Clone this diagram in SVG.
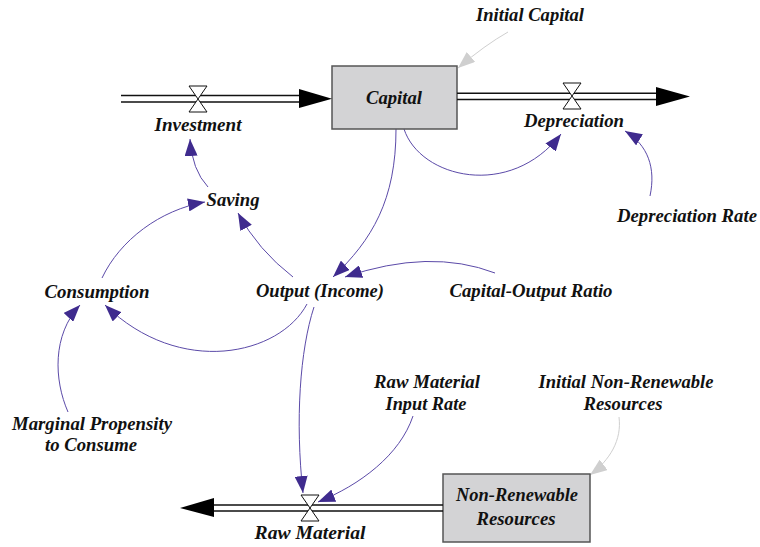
<svg xmlns="http://www.w3.org/2000/svg" width="760" height="547" viewBox="0 0 760 547">
<style>
text{font-family:"Liberation Serif","Times New Roman",serif;font-weight:bold;font-style:italic;font-size:18.5px;fill:#111;text-anchor:middle}
.box{fill:#d3d3d5;stroke:#555;stroke-width:1.5}
.pipe{fill:none;stroke:#111;stroke-width:1.5}
.valve{fill:#fff;stroke:#111;stroke-width:1}
.link{fill:none;stroke:#5b4aa8;stroke-width:1}
.init{fill:none;stroke:#cfcfcf;stroke-width:1}
</style>
<defs>
<marker id="a" markerUnits="userSpaceOnUse" markerWidth="17" markerHeight="13" refX="17" refY="6.5" orient="auto"><path d="M0,0 L17,6.5 L0,13 z" fill="#3f2b8e"/></marker>
<marker id="g" markerUnits="userSpaceOnUse" markerWidth="17" markerHeight="13" refX="17" refY="6.5" orient="auto"><path d="M0,0 L17,6.5 L0,13 z" fill="#cfcfcf"/></marker>
</defs>
<g id="connectors">
<path class="link" d="M404,129 C420,178 510,200 561,134" marker-end="url(#a)"/>
<path class="link" d="M650,196 C656,168 648,145 625,131" marker-end="url(#a)"/>
<path class="init" d="M508,32 Q485,45 458,68" marker-end="url(#g)"/>
<path class="link" d="M396,129 C396,200 372,240 333,277" marker-end="url(#a)"/>
<path class="link" d="M495,273 Q430,248 345,277" marker-end="url(#a)"/>
<path class="link" d="M293,277 Q258,250 238,213" marker-end="url(#a)"/>
<path class="link" d="M208,187 Q192,170 190,139" marker-end="url(#a)"/>
<path class="link" d="M102,278 C120,240 160,210 205,202" marker-end="url(#a)"/>
<path class="link" d="M307,304 C280,355 180,378 105,305" marker-end="url(#a)"/>
<path class="link" d="M68,412 C54,380 52,335 80,305" marker-end="url(#a)"/>
<path class="link" d="M314,307 C300,350 295,420 303,493" marker-end="url(#a)"/>
<path class="link" d="M413,416 C400,455 360,485 318,502" marker-end="url(#a)"/>
<path class="init" d="M619,417 C622,440 610,460 590,475" marker-end="url(#g)"/>
</g>
<g id="capital">
<rect class="box" x="332" y="66" width="125" height="63"/>
<text x="394" y="104" textLength="56" lengthAdjust="spacingAndGlyphs">Capital</text>
</g>
<g id="initial-capital"><text x="530" y="21" textLength="108" lengthAdjust="spacingAndGlyphs">Initial Capital</text></g>
<g id="investment">
<path class="pipe" d="M121,95.5 H300 M121,102 H300"/>
<path d="M299,89 L332,98.7 L299,108 z" fill="#000"/>
<path class="valve" d="M189,86 H207 L189,112 H207 z"/>
<text x="198" y="131" textLength="87" lengthAdjust="spacingAndGlyphs">Investment</text>
</g>
<g id="depreciation">
<path class="pipe" d="M457,93.3 H660 M457,99.5 H660"/>
<path d="M656,87 L690,96.4 L656,106 z" fill="#000"/>
<path class="valve" d="M563,83 H581 L563,109 H581 z"/>
<text x="574" y="127" textLength="100" lengthAdjust="spacingAndGlyphs">Depreciation</text>
</g>
<g id="depreciation-rate"><text x="687" y="222" textLength="140" lengthAdjust="spacingAndGlyphs">Depreciation Rate</text></g>
<g id="saving"><text x="233" y="206" textLength="53" lengthAdjust="spacingAndGlyphs">Saving</text></g>
<g id="consumption"><text x="97" y="298" textLength="105" lengthAdjust="spacingAndGlyphs">Consumption</text></g>
<g id="output"><text x="320" y="297" textLength="128" lengthAdjust="spacingAndGlyphs">Output (Income)</text></g>
<g id="capital-output-ratio"><text x="531" y="297" textLength="163" lengthAdjust="spacingAndGlyphs">Capital-Output Ratio</text></g>
<g id="mpc"><text x="92" y="430" textLength="160" lengthAdjust="spacingAndGlyphs">Marginal Propensity</text><text x="91" y="451" textLength="92" lengthAdjust="spacingAndGlyphs">to Consume</text></g>
<g id="raw-material-input-rate"><text x="427" y="388" textLength="106" lengthAdjust="spacingAndGlyphs">Raw Material</text><text x="426" y="410" textLength="81" lengthAdjust="spacingAndGlyphs">Input Rate</text></g>
<g id="initial-nr"><text x="626" y="388" textLength="175" lengthAdjust="spacingAndGlyphs">Initial Non-Renewable</text><text x="623" y="410" textLength="79" lengthAdjust="spacingAndGlyphs">Resources</text></g>
<g id="non-renewable-resources">
<rect class="box" x="443" y="474" width="147" height="68"/>
<text x="517" y="501" textLength="122" lengthAdjust="spacingAndGlyphs">Non-Renewable</text><text x="516" y="525" textLength="79" lengthAdjust="spacingAndGlyphs">Resources</text>
</g>
<g id="raw-material">
<path class="pipe" d="M212,505 H443 M212,511 H443"/>
<path d="M214,498 L180,508 L214,517 z" fill="#000"/>
<path class="valve" d="M301,495 H319 L301,521 H319 z"/>
<text x="310" y="539" textLength="111" lengthAdjust="spacingAndGlyphs">Raw Material</text>
</g>
</svg>
